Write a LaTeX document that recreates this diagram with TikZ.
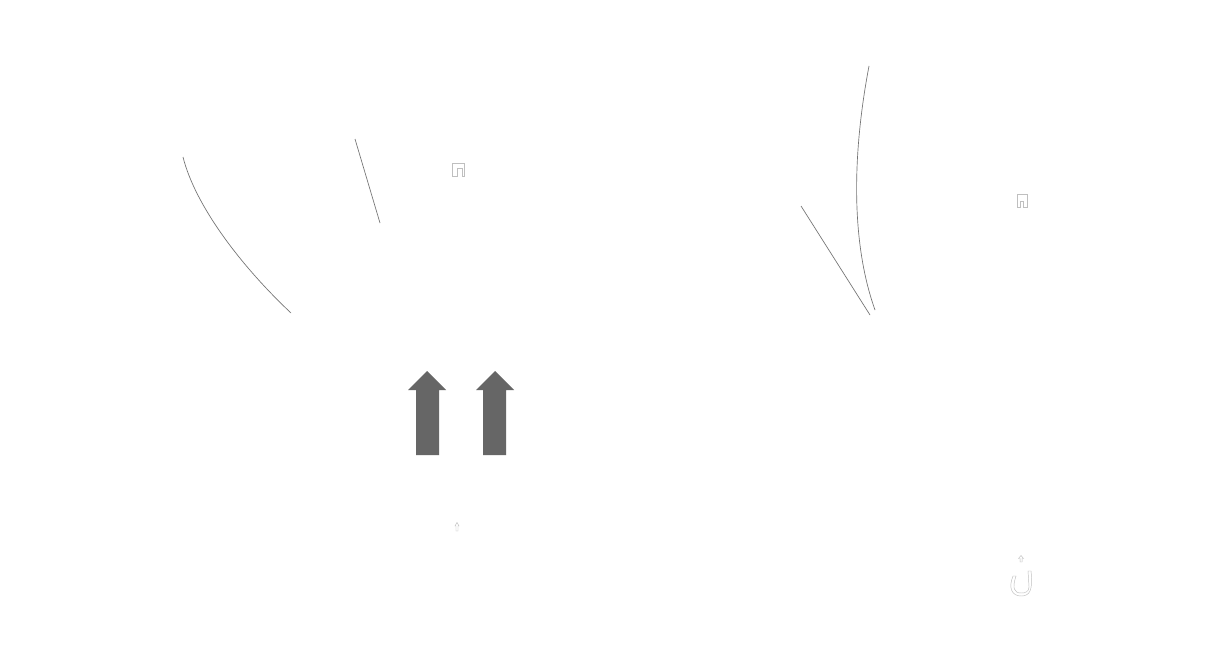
\documentclass[tikz,border=0pt]{standalone}
\begin{document}
\begin{tikzpicture}[x=0.75pt,y=-0.75pt,
  thinline/.style={draw=black!55, line width=0.5pt},
  glyph/.style={draw=black!25, line width=0.35pt, line join=miter},
  blockarrow/.style={fill=black!60, draw=none}]
\useasboundingbox[fill=white] (0,0) rectangle (1230,660);
% curves and lines
\draw[thinline] (183,157) .. controls (195,205) and (240,265) .. (291,313);
\draw[thinline] (355,139) -- (380,223);
\draw[thinline] (869,66) .. controls (853,150) and (850,240) .. (875,310);
\draw[thinline] (801,206) -- (870,315);
% block arrows
\fill[blockarrow] (416,455) -- (416,390) -- (408,390) -- (427,371) -- (446,390) -- (439,390) -- (439,455) -- cycle;
\fill[blockarrow] (483,455) -- (483,390) -- (476,390) -- (495,371) -- (514,390) -- (506,390) -- (506,455) -- cycle;
% small glyph outlines
\draw[glyph] (452,176) -- (452,163) -- (464,163) -- (464,176) -- (462,176) -- (462,168) -- (457,168) -- (457,176) -- cycle;
\draw[glyph] (1017,207) -- (1017,194) -- (1027,194) -- (1027,207) -- (1023,207) -- (1023,201) -- (1020,201) -- (1020,207) -- cycle;
\draw[glyph] (456,531) -- (456,526) -- (455,526) -- (457,522.5) -- (459,526) -- (458,526) -- (458,531) -- cycle;
\draw[glyph] (1020,562) -- (1020,558.5) -- (1018.5,558.5) -- (1021,555.5) -- (1023.5,558.5) -- (1022,558.5) -- (1022,562) -- cycle;
\draw[glyph] (1013,576) .. controls (1008,588) and (1012,596) .. (1021,596) .. controls (1030,596) and (1033,590) .. (1031,571) -- (1028,571) -- (1029,587) .. controls (1029,592) and (1025,593) .. (1021,593) .. controls (1014,593) and (1012,588) .. (1016,576) -- cycle;
\end{tikzpicture}
\end{document}
